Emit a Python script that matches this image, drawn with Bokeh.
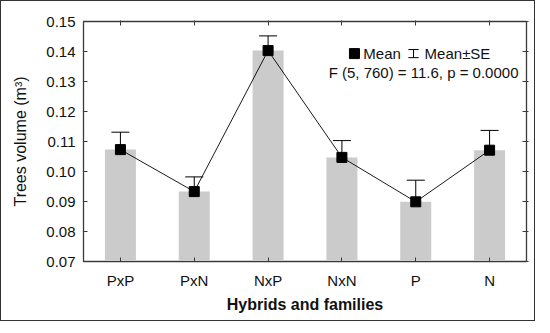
from bokeh.plotting import figure
from bokeh.models import (ColumnDataSource, FactorRange, Range1d, LinearAxis, CategoricalAxis,
                          CustomJSTickFormatter, Whisker, TeeHead, Label, FixedTicker)
from bokeh.embed import file_html
from bokeh.resources import INLINE

categories = ["PxP", "PxN", "NxP", "NxN", "P", "N"]
means = [0.1073, 0.0933, 0.1403, 0.1047, 0.0899, 0.1071]
se_upper = [0.1131, 0.0982, 0.1452, 0.1103, 0.0971, 0.1137]
se_lower = [0.1015, 0.0884, 0.1352, 0.0987, 0.0824, 0.1007]
y_ticks = [0.07, 0.08, 0.09, 0.10, 0.11, 0.12, 0.13, 0.14, 0.15]
y_tick_labels = {0.07: "0.07", 0.08: "0.08", 0.09: "0.09", 0.10: "0.10", 0.11: "0.11",
                 0.12: "0.12", 0.13: "0.13", 0.14: "0.14", 0.15: "0.15"}

FONT = "Liberation Sans"
FRAME = "#3a3a3a"
TXT = "#111111"

src = ColumnDataSource(dict(x=categories, mean=means, upper=se_upper, lower=se_lower))

p = figure(width=535, height=321, x_range=FactorRange(*categories), y_range=Range1d(0.07, 0.15),
           output_backend="svg", toolbar_location=None,
           min_border_left=82, min_border_right=10, min_border_top=20, min_border_bottom=61)
p.styles = {"border": "1px solid #333333"}
p.outline_line_color = FRAME
p.outline_line_width = 1.3
p.grid.visible = False
p.background_fill_color = "white"

# bars
p.vbar(x="x", top="mean", bottom=0.07, width=0.42, source=src, fill_color="#cbcbcb", line_color=None)

# error bars
wh = Whisker(base="x", upper="upper", lower="lower", source=src, line_color="black", line_width=1,
             upper_head=TeeHead(size=18, line_color="black", line_width=1),
             lower_head=TeeHead(size=18, line_color="black", line_width=1))
p.add_layout(wh)

# mean line + markers
p.line(x="x", y="mean", source=src, line_color="black", line_width=0.9)
p.scatter(x="x", y="mean", source=src, marker="square", size=10, fill_color="black", line_color="black")

# axes
yax = p.yaxis[0]
yax.ticker = FixedTicker(ticks=y_ticks)
yax.major_label_overrides = y_tick_labels
yax.major_tick_in = 4
yax.major_tick_out = 0
yax.minor_tick_line_color = None
yax.axis_line_color = FRAME
yax.major_tick_line_color = FRAME
yax.major_label_text_font = FONT
yax.major_label_text_font_size = "15px"
yax.major_label_text_color = TXT
yax.major_label_standoff = 8
yax.axis_label = "Trees volume (m³)"
yax.axis_label_text_font = FONT
yax.axis_label_text_font_size = "16px"
yax.axis_label_text_font_style = "normal"
yax.axis_label_text_color = TXT
yax.axis_label_standoff = 14

xax = p.xaxis[0]
xax.major_tick_in = 4
xax.major_tick_out = 0
xax.axis_line_color = FRAME
xax.major_tick_line_color = FRAME
xax.major_label_text_font = FONT
xax.major_label_text_font_size = "15px"
xax.major_label_text_color = TXT
xax.major_label_standoff = 10
xax.axis_label = "Hybrids and families"
xax.axis_label_text_font = FONT
xax.axis_label_text_font_size = "16px"
xax.axis_label_text_font_style = "bold"
xax.axis_label_text_color = TXT
xax.axis_label_standoff = 4

# top axis: ticks at category centres, no labels
top = CategoricalAxis(formatter=CustomJSTickFormatter(code="return ''"),
                      major_tick_in=4, major_tick_out=1,
                      axis_line_color=FRAME, major_tick_line_color=FRAME, major_label_standoff=0)
p.add_layout(top, "above")
right = LinearAxis(ticker=FixedTicker(ticks=y_ticks), major_label_overrides={t: "" for t in y_ticks},
                   major_tick_in=4, major_tick_out=2, minor_tick_line_color=None,
                   axis_line_color=FRAME, major_tick_line_color=FRAME, major_label_standoff=0)
p.add_layout(right, "right")

# legend (manual)
ly = 0.1393
p.scatter(x=[3.67], y=[ly], marker="square", size=10, fill_color="black", line_color="black")
p.add_layout(Label(x=3.79, y=ly, text="Mean", text_font=FONT, text_font_size="15px",
                   text_baseline="middle", text_color=TXT))
ix = 4.47
dy = 0.00135
p.segment(x0=[ix, ix - 0.07, ix - 0.07], y0=[ly - dy, ly + dy, ly - dy],
          x1=[ix, ix + 0.07, ix + 0.07], y1=[ly + dy, ly + dy, ly - dy],
          line_color="black", line_width=1)
p.add_layout(Label(x=4.62, y=ly, text="Mean±SE", text_font=FONT, text_font_size="15px",
                   text_baseline="middle", text_color=TXT))
p.add_layout(Label(x=3.32, y=0.1330, text="F (5, 760) = 11.6, p = 0.0000", text_font=FONT,
                   text_font_size="15px", text_baseline="middle", text_color=TXT))

open("out.html", "w").write(file_html(p, INLINE))
